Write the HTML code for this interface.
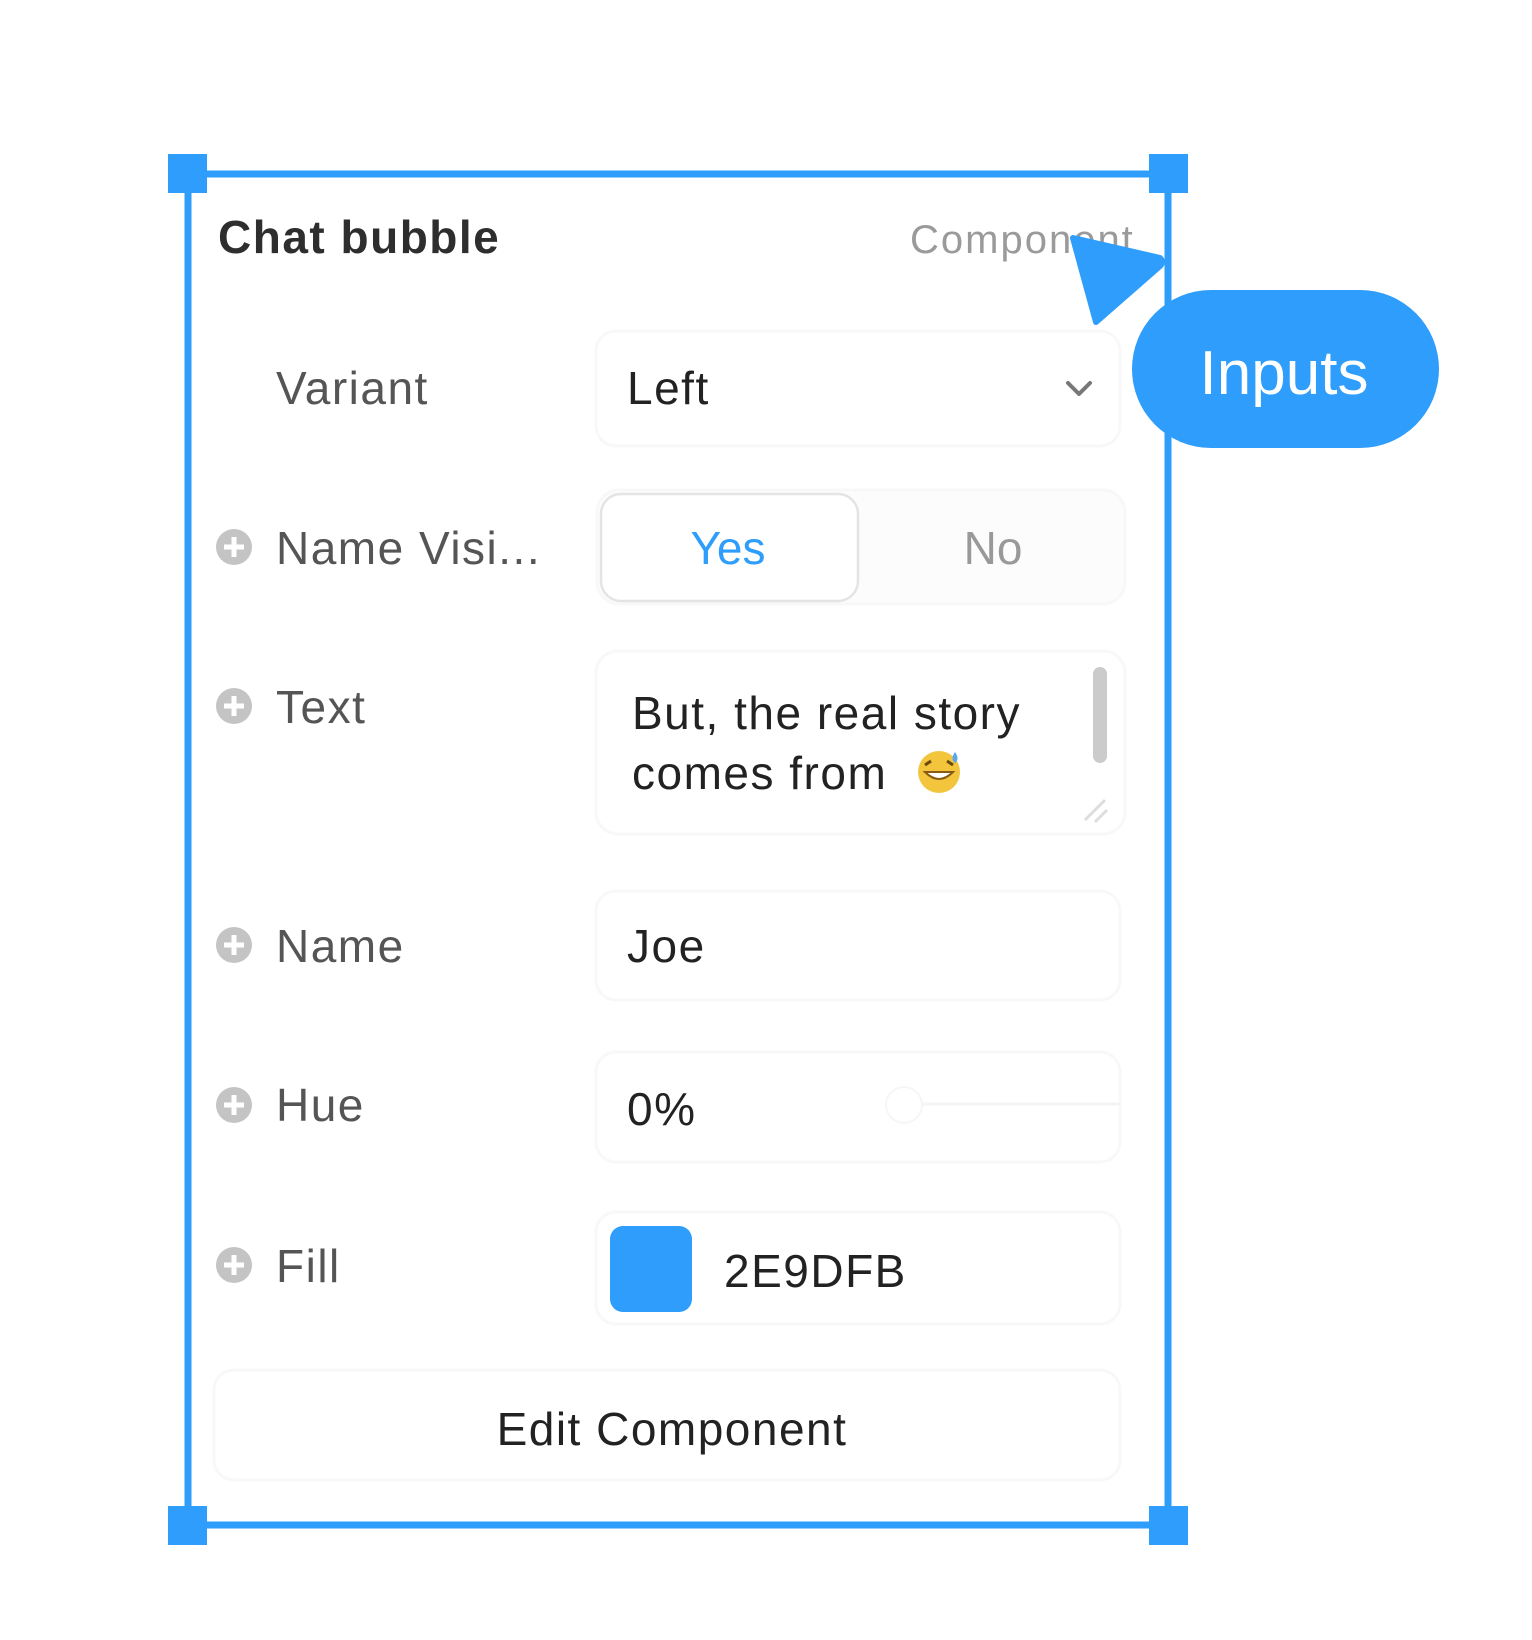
<!DOCTYPE html>
<html><head><meta charset="utf-8"><style>
html,body{margin:0;padding:0;background:#fff;}
svg{display:block;}
text{font-family:"Liberation Sans",sans-serif;}
</style></head><body>
<svg width="1532" height="1640" viewBox="0 0 1532 1640" xmlns="http://www.w3.org/2000/svg">
<rect width="1532" height="1640" fill="#fff"/>
<g fill="#fff" stroke="#f8f8f8" stroke-width="3">
<rect x="596" y="331" width="524" height="115" rx="20"/>
<rect x="597" y="490" width="528" height="114" rx="22" fill="#fcfcfc"/>
<rect x="596" y="651" width="529" height="183" rx="22"/>
<rect x="596" y="891" width="524" height="109" rx="20"/>
<rect x="596" y="1052" width="524" height="110" rx="20"/>
<rect x="596" y="1212" width="524" height="112" rx="20"/>
<rect x="214" y="1370" width="906" height="110" rx="20"/>
</g>
<rect x="601" y="494" width="257" height="107" rx="20" fill="#fff" stroke="#e4e4e4" stroke-width="2.5"/>
<rect x="188" y="174" width="980" height="1351" fill="none" stroke="#2e9dfb" stroke-width="7"/>
<rect x="168" y="154" width="39" height="39" fill="#2e9dfb"/>
<rect x="1149" y="154" width="39" height="39" fill="#2e9dfb"/>
<rect x="168" y="1506" width="39" height="39" fill="#2e9dfb"/>
<rect x="1149" y="1506" width="39" height="39" fill="#2e9dfb"/>
<text x="218" y="253" font-size="46" font-weight="bold" fill="#2e2e2e" letter-spacing="1.5">Chat bubble</text>
<text x="910" y="253" font-size="40" fill="#9a9a9a" letter-spacing="2">Component</text>
<g font-size="46" fill="#555" letter-spacing="1.5">
<text x="276" y="404">Variant</text>
<text x="276" y="564">Name Visi...</text>
<text x="276" y="723">Text</text>
<text x="276" y="962">Name</text>
<text x="276" y="1121">Hue</text>
<text x="276" y="1282">Fill</text>
</g>
<g>
<circle cx="234" cy="547" r="18" fill="#c4c4c4"/>
<circle cx="234" cy="706" r="18" fill="#c4c4c4"/>
<circle cx="234" cy="945" r="18" fill="#c4c4c4"/>
<circle cx="234" cy="1105" r="18" fill="#c4c4c4"/>
<circle cx="234" cy="1265" r="18" fill="#c4c4c4"/>
<g stroke="#fff" stroke-width="5">
<path d="M224 547h20M234 537v20"/><path d="M224 706h20M234 696v20"/><path d="M224 945h20M234 935v20"/><path d="M224 1105h20M234 1095v20"/><path d="M224 1265h20M234 1255v20"/>
</g>
</g>
<g font-size="46" fill="#222" letter-spacing="1.5">
<text x="627" y="404">Left</text>
<text x="632" y="729">But, the real story</text>
<text x="632" y="789">comes from</text>
<text x="627" y="962">Joe</text>
<text x="627" y="1125">0%</text>
<text x="724" y="1287">2E9DFB</text>
<text x="672" y="1445" text-anchor="middle">Edit Component</text>
</g>
<text x="728" y="564" font-size="46" fill="#2e9dfb" text-anchor="middle">Yes</text>
<text x="993" y="564" font-size="46" fill="#999" text-anchor="middle">No</text>
<path d="M1068 383l11 11 11-11" fill="none" stroke="#777" stroke-width="4" stroke-linecap="round" stroke-linejoin="round"/>
<circle cx="939" cy="772" r="21" fill="#f2c53d"/>
<path d="M925 772q14 14 28 0z" fill="#fff" stroke="#8a5a10" stroke-width="2"/>
<path d="M925 765l6-4M953 765l-6-4" stroke="#6b4a10" stroke-width="3"/>
<path d="M955 752q5 7 0 11q-5-4 0-11z" fill="#5aa6f0"/>
<rect x="1093" y="667" width="14" height="96" rx="7" fill="#cbcbcb"/>
<path d="M1085 820l20-20M1095 822l12-12" stroke="#ddd" stroke-width="3"/>
<line x1="920" y1="1104" x2="1120" y2="1104" stroke="#f4f4f4" stroke-width="3"/>
<circle cx="904" cy="1105" r="18" fill="#fff" stroke="#f6f6f6" stroke-width="2"/>
<rect x="610" y="1226" width="82" height="86" rx="13" fill="#2e9dfb"/>
<path d="M1073 238 L1160 258 Q1164 262 1160 266 L1096 322 Z" fill="#2e9dfb" stroke="#2e9dfb" stroke-width="6" stroke-linejoin="round"/>
<rect x="1132" y="290" width="307" height="158" rx="79" fill="#2e9dfb"/>
<text x="1284" y="394" font-size="62" fill="#fff" text-anchor="middle">Inputs</text>
</svg>
</body></html>
